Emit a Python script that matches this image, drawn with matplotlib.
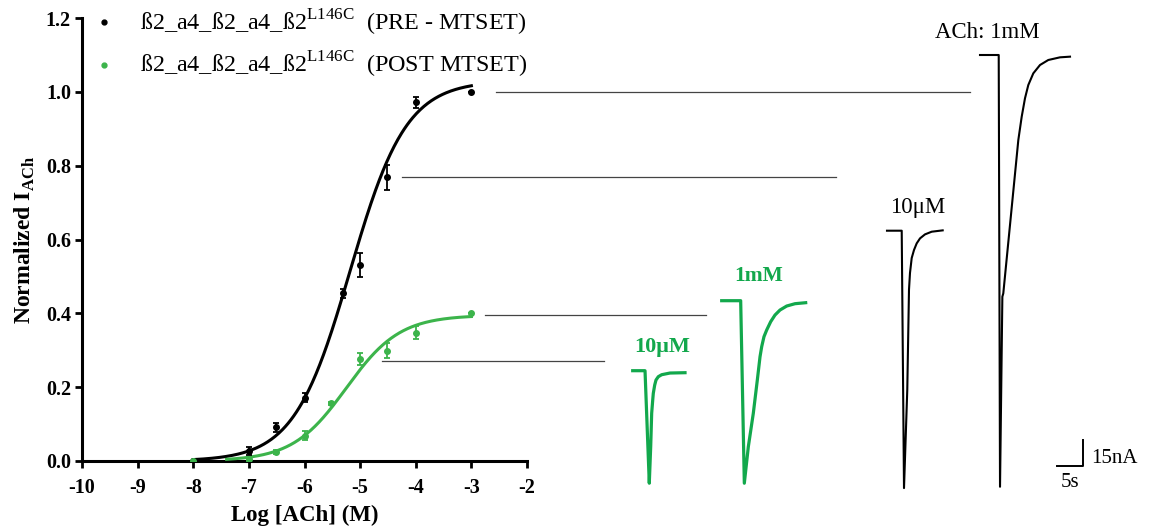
import matplotlib
matplotlib.use('Agg')
import matplotlib.pyplot as plt
import numpy as np

plt.rcParams['font.family'] = 'Liberation Serif'
plt.rcParams['mathtext.fontset'] = 'custom'
plt.rcParams['mathtext.rm'] = 'Liberation Serif'
plt.rcParams['mathtext.bf'] = 'Liberation Serif:bold'
plt.rcParams['axes.unicode_minus'] = False

# concentration-response data, log [ACh] (M) vs normalized current
pre_x = [-8, -7, -6.52, -6, -5.3, -5, -4.52, -4, -3]
pre_y = [0.0, 0.027, 0.091, 0.172, 0.454, 0.531, 0.768, 0.972, 1.0]
pre_err = [0.0, 0.01, 0.012, 0.012, 0.012, 0.032, 0.035, 0.015, 0.0]
post_x = [-8, -7, -6.52, -6, -5.52, -5, -4.52, -4, -3]
post_y = [0.0, 0.005, 0.024, 0.069, 0.156, 0.276, 0.299, 0.348, 0.40]
post_err = [0.0, 0.004, 0.006, 0.012, 0.005, 0.016, 0.02, 0.017, 0.0]

# hill fits (top, logEC50, slope, x range)
pre_fit = (1.03, -5.18, 0.86, -8.0, -3.0)
post_fit = (0.395, -5.25, 0.9, -7.4, -3.0)

# guide lines from the curve to the traces (y level, x start, x end)
link_y = [1.0, 0.77, 0.395, 0.27]
link_x0 = [-2.55, -4.25, -2.75, -4.6]
link_x1 = [5.97, 3.56, 1.22, -0.62]

# current traces: time (s) and current (nA) relative to trace start
pre_1mM_t = [0, 3.6, 3.85, 4.3, 4.48, 7.37, 8.02, 8.65, 9.29, 10.25, 11.54,
             13.13, 15.38, 17.31]
pre_1mM_i = [0, 0, -259, -145, -143, -51, -37, -26, -18, -11, -6, -3,
             -1.4, -1.0]
pre_10uM_t = [0, 2.83, 3.27, 3.9, 4.23, 4.42, 4.75, 5.19, 5.71, 6.35, 7.31,
              8.6, 10.71]
pre_10uM_i = [0, 0, -154.4, -95.4, -35.4, -25.4, -16.4, -11.6, -7.6, -4.6,
              -2.2, -0.6, 0.2]
post_1mM_t = [0, 3.65, 4.35, 5.12, 6.08, 6.85, 7.37, 7.69, 8.13, 8.65, 9.42,
              10.25, 11.21, 12.5, 14.1, 16.15]
post_1mM_i = [0, 0, -109.5, -87.6, -67.5, -47.6, -33.6, -27.6, -21.6, -17.6,
              -12.6, -8.6, -5.6, -3.2, -1.8, -1.2]
post_10uM_t = [0, 2.37, 3.19, 3.46, 3.65, 3.85, 3.96, 4.23, 4.48, 4.92, 5.58,
               7.17, 10.06]
post_10uM_i = [0, 0, -67.5, -45.6, -25.5, -17.6, -13.6, -8.6, -5.6, -3.6,
               -2.4, -1.4, -1.2]

BLACK = 'black'
GREEN = '#3cb44b'
GREEN_TR = '#12a84c'

W, H = 1149, 530
fig = plt.figure(figsize=(W / 100, H / 100), dpi=100)
ax = fig.add_axes([82 / W, 1 - 461 / H, 445 / W, 443 / H])


def hill(x, top, ec50, n):
    return top / (1 + 10 ** (n * (ec50 - x)))


for fit, col in [(pre_fit, BLACK), (post_fit, GREEN)]:
    top, ec50, n, x0, x1 = fit
    xx = np.linspace(x0, x1, 300)
    ax.plot(xx, hill(xx, top, ec50, n), color=col, lw=2.2, zorder=3)

ax.errorbar(pre_x, pre_y, yerr=pre_err, fmt='o', ms=4, color=BLACK,
            ecolor=BLACK, elinewidth=1.3, capsize=2.5, capthick=1.3, zorder=4)
ax.errorbar(post_x, post_y, yerr=post_err, fmt='o', ms=4, color=GREEN,
            ecolor=GREEN, elinewidth=1.3, capsize=2.5, capthick=1.3, zorder=4)

for y, x0, x1 in zip(link_y, link_x0, link_x1):
    ax.plot([x0, x1], [y, y], color='#444444', lw=0.9, clip_on=False)

ax.set_xlim(-10, -2)
ax.set_ylim(0, 1.2)
ax.set_xticks(np.arange(-10, -1, 1))
ax.set_yticks(np.arange(0, 1.21, 0.2))
ax.set_yticklabels([f'{v:.1f}' for v in np.arange(0, 1.21, 0.2)])
for s in ['top', 'right']:
    ax.spines[s].set_visible(False)
for s in ['left', 'bottom']:
    ax.spines[s].set_linewidth(2.2)
ax.tick_params(width=2, length=5, labelsize=14.5, pad=3)
ax.tick_params(axis='x', pad=7)
for lab in ax.get_xticklabels() + ax.get_yticklabels():
    lab.set_fontweight('bold')
ax.set_xlabel('Log [ACh] (M)', fontsize=16.5, fontweight='bold', labelpad=5)
ax.set_ylabel(r'Normalized I$_{\mathbf{ACh}}$', fontsize=17, fontweight='bold',
              labelpad=6)
ax.patch.set_visible(False)

# legend
leg_txt = [r'ß2_a4_ß2_a4_ß2$^{\mathrm{L146C}}$  (PRE - MTSET)',
           r'ß2_a4_ß2_a4_ß2$^{\mathrm{L146C}}$  (POST MTSET)']
for i, (txt, col) in enumerate(zip(leg_txt, [BLACK, GREEN])):
    yy = 0.99 - i * 0.095
    ax.plot([0.05], [yy], 'o', ms=3.5, color=col, transform=ax.transAxes,
            clip_on=False)
    ax.text(0.13, yy, txt, transform=ax.transAxes, fontsize=17.4,
            va='center', ha='left')

# traces overlay, units of seconds and nA
PX_S = 5.2
PX_NA = 1.667
tr = fig.add_axes([0, 0, 1, 1])
tr.set_xlim(0, W / PX_S)
tr.set_ylim(-H / PX_NA, 0)
tr.axis('off')

traces = [
    (pre_1mM_t, pre_1mM_i, 980, 55, BLACK),
    (pre_10uM_t, pre_10uM_i, 887, 230.7, BLACK),
    (post_1mM_t, post_1mM_i, 721.7, 300.7, GREEN_TR),
    (post_10uM_t, post_10uM_i, 632.7, 370.7, GREEN_TR),
]
for t, i, px, py, col in traces:
    lw = 1.5 if col == BLACK else 2.3
    tr.plot(np.array(t) + px / PX_S, np.array(i) - py / PX_NA, color=col,
            lw=lw, solid_joinstyle='round')

tr.text(987 / PX_S, -33 / PX_NA, 'ACh: 1mM', fontsize=16.5, ha='center',
        va='center')
tr.text(918 / PX_S, -207 / PX_NA, '10μM', fontsize=16.5, ha='center',
        va='center')
tr.text(759 / PX_S, -276 / PX_NA, '1mM', fontsize=15.5, ha='center',
        va='center', color=GREEN_TR, fontweight='bold')
tr.text(662 / PX_S, -347 / PX_NA, '10μM', fontsize=16, ha='center',
        va='center', color=GREEN_TR, fontweight='bold')

# scale bar 5 s / 15 nA
sx, sy = 1083 / PX_S, -465.5 / PX_NA
tr.plot([sx - 5, sx, sx], [sy, sy, sy + 15], color=BLACK, lw=1.4)
tr.text(sx + 1.5, sy + 4, '15nA', fontsize=15, va='center', ha='left')
tr.text(sx - 2.5, sy - 10, '5s', fontsize=15, va='center', ha='center')

fig.savefig('out.png', dpi=100)
